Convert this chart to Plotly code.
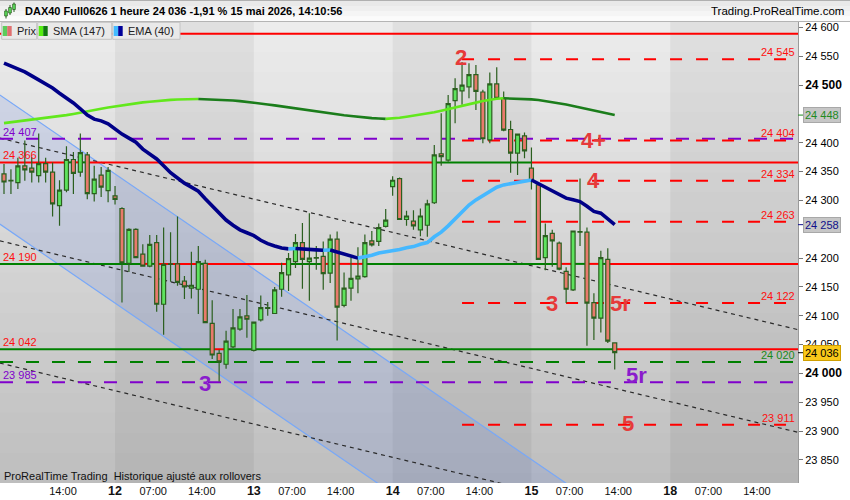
import plotly.graph_objects as go

# ---------------- data ----------------
OPEN = [24346, 24335, 24331, 24360, 24356, 24343, 24364, 24349, 24291, 24318,
        24371, 24349, 24379, 24312, 24344, 24317, 24308, 24286, 24191, 24250,
        24207, 24186, 24227, 24120, 24190, 24190, 24160, 24148, 24146, 24191,
        24087, 24035, 24016, 24046, 24077, 24100, 24040, 24093, 24113, 24104,
        24146, 24171, 24194, 24227, 24194, 24200, 24203, 24174, 24233, 24118,
        24148, 24164, 24168, 24230, 24229, 24255, 24324, 24338, 24267, 24264,
        24249, 24257, 24296, 24381, 24370, 24473, 24490, 24497, 24518, 24488,
        24405, 24502, 24477, 24423, 24382, 24412, 24356, 24327, 24201, 24243,
        24226, 24177, 24145, 24245, 24245, 24123, 24096, 24198, 24053]
HIGH = [24363, 24354, 24374, 24404, 24375, 24416, 24374, 24366, 24335, 24394,
        24384, 24416, 24384, 24360, 24358, 24358, 24325, 24288, 24252, 24252,
        24224, 24240, 24240, 24253, 24245, 24272, 24169, 24211, 24221, 24197,
        24127, 24041, 24074, 24112, 24112, 24136, 24090, 24135, 24124, 24150,
        24192, 24209, 24242, 24261, 24278, 24221, 24229, 24241, 24246, 24175,
        24201, 24219, 24241, 24247, 24260, 24285, 24342, 24340, 24282, 24283,
        24286, 24301, 24396, 24451, 24483, 24512, 24540, 24538, 24535, 24492,
        24522, 24531, 24489, 24438, 24416, 24418, 24392, 24330, 24260, 24249,
        24229, 24184, 24248, 24338, 24253, 24139, 24213, 24217, 24054]
LOW = [24311, 24311, 24320, 24334, 24331, 24331, 24331, 24272, 24256, 24314,
       24311, 24341, 24302, 24298, 24306, 24297, 24293, 24123, 24176, 24200,
       24185, 24184, 24107, 24067, 24159, 24152, 24129, 24130, 24103, 24087,
       24025, 23986, 24008, 24044, 24074, 24062, 24038, 24090, 24100, 24103,
       24133, 24143, 24183, 24147, 24126, 24180, 24145, 24157, 24057, 24115,
       24126, 24139, 24166, 24220, 24221, 24253, 24308, 24266, 24256, 24249,
       24238, 24237, 24294, 24360, 24367, 24434, 24466, 24477, 24457, 24399,
       24399, 24475, 24420, 24348, 24344, 24373, 24319, 24197, 24179, 24185,
       24179, 24122, 24143, 24221, 24048, 24058, 24071, 24053, 24007]
CLOSE = [24332, 24334, 24360, 24353, 24349, 24364, 24349, 24294, 24318, 24371,
         24347, 24383, 24312, 24337, 24323, 24352, 24302, 24192, 24250, 24201,
         24186, 24224, 24120, 24189, 24189, 24158, 24150, 24153, 24194, 24088,
         24032, 24020, 24056, 24079, 24098, 24094, 24089, 24114, 24114, 24145,
         24175, 24199, 24227, 24198, 24200, 24201, 24173, 24233, 24115, 24148,
         24165, 24169, 24227, 24223, 24253, 24266, 24335, 24267, 24273, 24256,
         24273, 24294, 24379, 24376, 24468, 24494, 24500, 24518, 24489, 24407,
         24502, 24477, 24422, 24382, 24415, 24386, 24334, 24198, 24239, 24230,
         24181, 24146, 24247, 24246, 24122, 24096, 24201, 24056, 24036]
EMA40 = [24538, 24533, 24528, 24523, 24516, 24509, 24502, 24495, 24486, 24478,
         24469, 24459, 24448, 24441, 24438, 24433, 24424, 24415, 24408, 24401,
         24389, 24381, 24372, 24360, 24348, 24339, 24330, 24323, 24316, 24303,
         24290, 24278, 24266, 24257, 24249, 24244, 24239, 24231, 24225, 24221,
         24217.5, 24216, 24216.8, 24215.6, 24214.9, 24214.3, 24213.6, 24214.2, 24211, 24207,
         24203, 24200, 24202, 24205, 24209, 24211, 24212, 24215, 24218, 24220,
         24224, 24227, 24237, 24245, 24256, 24268, 24280, 24292, 24301, 24308,
         24316, 24323, 24327, 24329, 24331.5, 24334.5, 24335.5, 24329, 24323, 24316,
         24309, 24304, 24301, 24298, 24290, 24281, 24278, 24268, 24258]
SMA147 = [24434, 24435.5, 24437, 24438, 24439.5, 24441, 24442.5, 24444, 24446, 24448,
          24450, 24452.5, 24454.5, 24457, 24459, 24461, 24463, 24465, 24466.5, 24468,
          24470, 24471, 24472.5, 24473.5, 24474.3, 24475, 24475.5, 24475.9, 24476, 24475.7,
          24475.3, 24474.8, 24474, 24473.3, 24472.2, 24471, 24469.6, 24468, 24466.5, 24464.8,
          24463, 24461.3, 24459.6, 24457.8, 24456, 24454.4, 24452.6, 24451, 24449.3, 24447.8,
          24446.4, 24445, 24443.8, 24442.8, 24442.1, 24441.5, 24442.1, 24443.3, 24445, 24446.7,
          24448.5, 24450.5, 24452.8, 24455.4, 24458, 24460.8, 24463.7, 24466.7, 24469.6, 24472.4,
          24474.5, 24476.2, 24477.1, 24476.9, 24476.6, 24476, 24475.3, 24474.1, 24472.4, 24470.7,
          24468.9, 24466.3, 24463.7, 24461.1, 24458.5, 24455.9, 24453.3, 24450.7, 24448]
BAR_INDEX = list(range(len(CLOSE)))

DAY_BOUNDS = [16, 36, 56, 76, 96]
X_TICK_POS = [8.5, 16, 21.5, 28.5, 36, 41.5, 48.5, 56, 61.5, 68.5, 76, 81.5, 88.5, 96, 101.5, 108.5]
X_TICK_TEXT = ["14:00", "12", "07:00", "14:00", "13", "07:00", "14:00", "14", "07:00", "14:00",
               "15", "07:00", "14:00", "18", "07:00", "14:00"]
Y_TICK_VALS = [23850, 23900, 23950, 24000, 24050, 24100, 24150, 24200, 24300, 24350, 24400, 24500, 24550, 24600]
Y_TICK_TEXT = ["23 850", "23 900", "23 950", "24 000", "24 050", "24 100", "24 150", "24 200",
               "24 300", "24 350", "24 400", "24 500", "24 550", "24 600"]
Y_TICK_BOLD = ["24 000", "24 500"]

SOLID_LEVELS = [24589, 24366, 24190, 24042]
RED_DASH_LEVELS = [24545, 24404, 24334, 24263, 24122, 23911]
RED_DASH_START = 66
FULL_DASH_LEVELS = [24407, 23985, 24020]
FULL_DASH_COLORS = ["#8000cc", "#8000cc", "#008000"]

CHANNEL_X = [-0.6, 114.4]
CHANNEL_UPPER = [24483, 23534]
CHANNEL_LOWER = [24259, 23310]
TREND_X = [-0.6, 114.4]
TRENDS = [[24408, 24076], [24230, 23898], [24018, 23686]]

LEFT_LABELS = [("24 407", 24407, "#8000cc"), ("24 366", 24366, "#ff1010"), ("24 190", 24190, "#ff1010"),
               ("24 042", 24042, "#ff1010"), ("23 985", 23985, "#8000cc")]
RIGHT_LABELS = [("24 545", 24545, "#ff1010"), ("24 404", 24404, "#ff1010"), ("24 334", 24334, "#ff1010"),
                ("24 263", 24263, "#ff1010"), ("24 122", 24122, "#ff1010"), ("24 020", 24020, "#1a8a1a"),
                ("23 911", 23911, "#ff1010")]
WAVE_LABELS = [("2", 65.9, 24548, "#e63a3a"), ("4+", 84.9, 24404, "#e63a3a"), ("4", 85.0, 24334, "#e63a3a"),
               ("3", 79.0, 24122, "#e63a3a"), ("5r", 88.9, 24122, "#e63a3a"), ("5", 89.9, 23914, "#e63a3a"),
               ("3", 29.0, 23983, "#8a1ccc"), ("5r", 91.1, 23996, "#8a1ccc")]
LAST_PRICE, SMA_LAST, EMA_LAST = 24036, 24448, 24258

TITLE = "DAX40 Full0626 1 heure 24 036 -1,91 % 15 mai 2026, 14:10:56"
SITE = "Trading.ProRealTime.com"
FOOT = "ProRealTime Trading \u00a0Historique ajusté aux rollovers"

# ---------------- geometry helpers ----------------
FONT = "Liberation Sans, Arial, sans-serif"
X_MIN, X_MAX = -0.576, 114.41
Y_MIN, Y_MAX = 23810.1, 24609.4
PLOT_W, PLOT_H, PLOT_TOP = 798, 461, 22


def xp(px):
    return px / PLOT_W


def yp(py):
    return (PLOT_TOP + PLOT_H - py) / PLOT_H


shapes = []
annotations = []

# background: vertical gradient + alternating day columns
N = 46
for k in range(N):
    y0 = Y_MIN + (Y_MAX - Y_MIN) * k / N
    y1 = Y_MIN + (Y_MAX - Y_MIN) * (k + 1) / N
    g = round(190 + 46 * (k + 0.5) / N)
    shapes.append(dict(type="rect", xref="x", yref="y", x0=X_MIN, x1=X_MAX, y0=y0, y1=y1 + 3,
                       fillcolor=f"rgb({g},{g},{g})", line=dict(width=0), layer="below"))
dark_spans = [(DAY_BOUNDS[0], DAY_BOUNDS[1]), (DAY_BOUNDS[2], DAY_BOUNDS[3]), (DAY_BOUNDS[4], X_MAX)]
for a, b in dark_spans:
    shapes.append(dict(type="rect", xref="x", yref="y", x0=a, x1=b, y0=Y_MIN - 50, y1=Y_MAX + 50,
                       fillcolor="rgba(0,0,0,0.05)", line=dict(width=0), layer="below"))

# regression channel
path = (f"M {CHANNEL_X[0]},{CHANNEL_UPPER[0]} L {CHANNEL_X[1]},{CHANNEL_UPPER[1]} "
        f"L {CHANNEL_X[1]},{CHANNEL_LOWER[1]} L {CHANNEL_X[0]},{CHANNEL_LOWER[0]} Z")
shapes.append(dict(type="path", xref="x", yref="y", path=path, fillcolor="rgba(70,110,235,0.14)",
                   line=dict(width=0), layer="below"))
for edge in (CHANNEL_UPPER, CHANNEL_LOWER):
    shapes.append(dict(type="line", xref="x", yref="y", x0=CHANNEL_X[0], x1=CHANNEL_X[1], y0=edge[0], y1=edge[1],
                       line=dict(color="#78a8f8", width=1.2), layer="below"))

# dashed trend lines
for t in TRENDS:
    shapes.append(dict(type="line", xref="x", yref="y", x0=TREND_X[0], x1=TREND_X[1], y0=t[0], y1=t[1],
                       line=dict(color="#2a2a2a", width=1.2, dash="4px,4px"), layer="below"))

# full-width dashed levels
for lvl, col in zip(FULL_DASH_LEVELS, FULL_DASH_COLORS):
    shapes.append(dict(type="line", xref="x", yref="y", x0=X_MIN, x1=X_MAX, y0=lvl, y1=lvl,
                       line=dict(color=col, width=2, dash="13px,13px"), layer="below"))
# red dashed levels
for lvl in RED_DASH_LEVELS:
    shapes.append(dict(type="line", xref="x", yref="y", x0=RED_DASH_START, x1=X_MAX, y0=lvl, y1=lvl,
                       line=dict(color="#ff0000", width=2, dash="12px,14px"), layer="below"))


# solid levels, coloured by where each bar closes
def level_segments(level):
    n = len(CLOSE)
    segs = []
    for i in range(n):
        lo = X_MIN if i == 0 else i
        hi = X_MAX if i == n - 1 else i + 1
        col = "#008000" if CLOSE[i] >= level else "#ff0000"
        if segs and segs[-1][2] == col:
            segs[-1][1] = hi
        else:
            segs.append([lo, hi, col])
    return segs


for lvl in SOLID_LEVELS:
    for lo, hi, col in level_segments(lvl):
        shapes.append(dict(type="line", xref="x", yref="y", x0=lo, x1=hi, y0=lvl, y1=lvl,
                           line=dict(color=col, width=2), layer="below"))

fig = go.Figure()

fig.add_trace(go.Candlestick(
    x=BAR_INDEX, open=OPEN, high=HIGH, low=LOW, close=CLOSE,
    increasing=dict(fillcolor="#5ee35e", line=dict(color="#2b5f1f", width=1.2)),
    decreasing=dict(fillcolor="#e97a6c", line=dict(color="#2b5f1f", width=1.2)),
    whiskerwidth=0, showlegend=False, hoverinfo="skip"))


def direction_runs(vals):
    runs = []
    start = 0
    up = vals[1] >= vals[0]
    for i in range(1, len(vals) - 1):
        nxt = vals[i + 1] >= vals[i]
        if nxt != up:
            runs.append((start, i, up))
            start, up = i, nxt
    runs.append((start, len(vals) - 1, up))
    return runs


for vals, up_col, down_col, w in ((SMA147, "#62e81c", "#1b7d1b", 2.6), (EMA40, "#45b8ff", "#000088", 3.6)):
    for s, e, up in direction_runs(vals):
        fig.add_trace(go.Scatter(x=BAR_INDEX[s:e + 1], y=vals[s:e + 1], mode="lines",
                                 line=dict(color=up_col if up else down_col, width=w),
                                 showlegend=False, hoverinfo="skip"))

# in-plot labels
for txt, lvl, col in LEFT_LABELS:
    annotations.append(dict(text=txt, xref="paper", x=xp(2), xanchor="left", yref="y", y=lvl, yanchor="bottom",
                            showarrow=False, font=dict(family=FONT, size=11, color=col), borderpad=0))
for txt, lvl, col in RIGHT_LABELS:
    annotations.append(dict(text=txt, xref="paper", x=xp(796), xanchor="right", yref="y", y=lvl, yanchor="bottom",
                            showarrow=False, font=dict(family=FONT, size=11, color=col), borderpad=0))
for txt, xi, lvl, col in WAVE_LABELS:
    annotations.append(dict(text=f"<b>{txt}</b>", xref="x", x=xi, yref="y", y=lvl, xanchor="center",
                            yanchor="middle", showarrow=False, font=dict(family=FONT, size=22, color=col)))

# value boxes on the price axis
for val, fg, bg, bd in ((SMA_LAST, "#1f8a1f", "#c6c6c6", "#a8a8a8"),
                        (EMA_LAST, "#10108a", "#c6c6c6", "#a8a8a8"),
                        (LAST_PRICE, "#000000", "#f9c81a", "#cf9f00")):
    annotations.append(dict(text=f"{val:,}".replace(",", " "), xref="paper", x=xp(803), xanchor="left",
                            yref="y", y=val, yanchor="middle", showarrow=False, bgcolor=bg, bordercolor=bd,
                            borderwidth=1, borderpad=1, font=dict(family=FONT, size=11, color=fg)))
    shapes.append(dict(type="line", xref="paper", yref="y", x0=xp(798), x1=xp(803), y0=val, y1=val,
                       line=dict(color=fg, width=1), layer="above"))

# title bar
bands = ["#fbfbfb", "#f5f5f5", "#efefef", "#e9e9e9"]
for k, c in enumerate(bands):
    shapes.append(dict(type="rect", xref="paper", yref="paper", x0=xp(0), x1=xp(850),
                       y0=yp(21.5 - k * 5.2), y1=yp(16.3 - k * 5.2 - 0.3), fillcolor=c, line=dict(width=0),
                       layer="above"))
shapes.append(dict(type="line", xref="paper", yref="paper", x0=xp(0), x1=xp(850), y0=yp(0.5), y1=yp(0.5),
                   line=dict(color="#b0b0b0", width=1), layer="above"))
shapes.append(dict(type="line", xref="paper", yref="paper", x0=xp(0), x1=xp(850), y0=yp(21.5), y1=yp(21.5),
                   line=dict(color="#b4b4b4", width=1), layer="above"))
# small candle icon
for cx, bt, bb, wt, wb in ((6, 11, 16, 9, 18.5), (10, 7.5, 13, 5, 15), (14, 4, 9.5, 2.5, 12)):
    shapes.append(dict(type="line", xref="paper", yref="paper", x0=xp(cx), x1=xp(cx), y0=yp(wb), y1=yp(wt),
                       line=dict(color="#2b5f1f", width=1), layer="above"))
    shapes.append(dict(type="rect", xref="paper", yref="paper", x0=xp(cx - 1.3), x1=xp(cx + 1.3), y0=yp(bb),
                       y1=yp(bt), fillcolor="#5ee35e", line=dict(color="#2b5f1f", width=0.8), layer="above"))
annotations.append(dict(text=f"<b>{TITLE}</b>", xref="paper", yref="paper", x=xp(23), y=yp(11), xanchor="left",
                        yanchor="middle", showarrow=False, font=dict(family=FONT, size=11, color="#000")))
annotations.append(dict(text=SITE, xref="paper", yref="paper", x=xp(846), y=yp(11), xanchor="right",
                        yanchor="middle", showarrow=False, font=dict(family=FONT, size=11.5, color="#000")))

# legend row
legend_items = [("Prix", 1.7, 36.7, "#5ccc5c", "#e07070"), ("SMA (147)", 37.7, 111.7, "#55ee11", "#0e7a0e"),
                ("EMA (40)", 112.7, 180, "#44bbff", "#000099")]
for txt, a, b, c1, c2 in legend_items:
    shapes.append(dict(type="rect", xref="paper", yref="paper", x0=xp(a), x1=xp(b), y0=yp(39.3), y1=yp(22.3),
                       fillcolor="#e9e9e9", line=dict(color="#c4c4c4", width=1), layer="above"))
    shapes.append(dict(type="rect", xref="paper", yref="paper", x0=xp(a + 1), x1=xp(a + 5.5), y0=yp(36),
                       y1=yp(26), fillcolor=c1, line=dict(width=0), layer="above"))
    shapes.append(dict(type="rect", xref="paper", yref="paper", x0=xp(a + 5.5), x1=xp(a + 10), y0=yp(36),
                       y1=yp(26), fillcolor=c2, line=dict(width=0), layer="above"))
    annotations.append(dict(text=txt, xref="paper", yref="paper", x=xp(a + 13.5), y=yp(31), xanchor="left",
                            yanchor="middle", showarrow=False, font=dict(family=FONT, size=11, color="#222")))

annotations.append(dict(text=FOOT, xref="paper", yref="paper", x=xp(2), y=yp(476), xanchor="left",
                        yanchor="middle", showarrow=False, font=dict(family=FONT, size=11, color="#111")))

x_tick_text = [f"<b><span style='font-size:12.5px'>{t}</span></b>" if ":" not in t else t for t in X_TICK_TEXT]
y_tick_text = [f"<b><span style='font-size:12px'>{t}</span></b>" if t in Y_TICK_BOLD else t for t in Y_TICK_TEXT]

fig.update_layout(
    width=850, height=500,
    margin=dict(l=0, r=52, t=22, b=17, pad=0),
    paper_bgcolor="white", plot_bgcolor="#d0d0d0",
    showlegend=False, hovermode=False,
    boxgap=0.42, boxgroupgap=0,
    shapes=shapes, annotations=annotations,
    xaxis=dict(range=[X_MIN, X_MAX], showgrid=False, zeroline=False, showline=False,
               tickvals=X_TICK_POS, ticktext=x_tick_text, ticks="",
               tickfont=dict(family=FONT, size=11, color="#111"), rangeslider=dict(visible=False),
               fixedrange=True),
    yaxis=dict(range=[Y_MIN, Y_MAX], side="right", showgrid=False, zeroline=False, showline=True,
               linecolor="#9a9a9a", linewidth=1, ticks="outside", ticklen=4, tickcolor="#777",
               tickvals=Y_TICK_VALS, ticktext=y_tick_text,
               tickfont=dict(family=FONT, size=11, color="#000"), fixedrange=True),
)

fig.write_html("out.html", config={"displayModeBar": False},
               post_script="document.body.style.margin='0';document.body.style.overflow='hidden';")
